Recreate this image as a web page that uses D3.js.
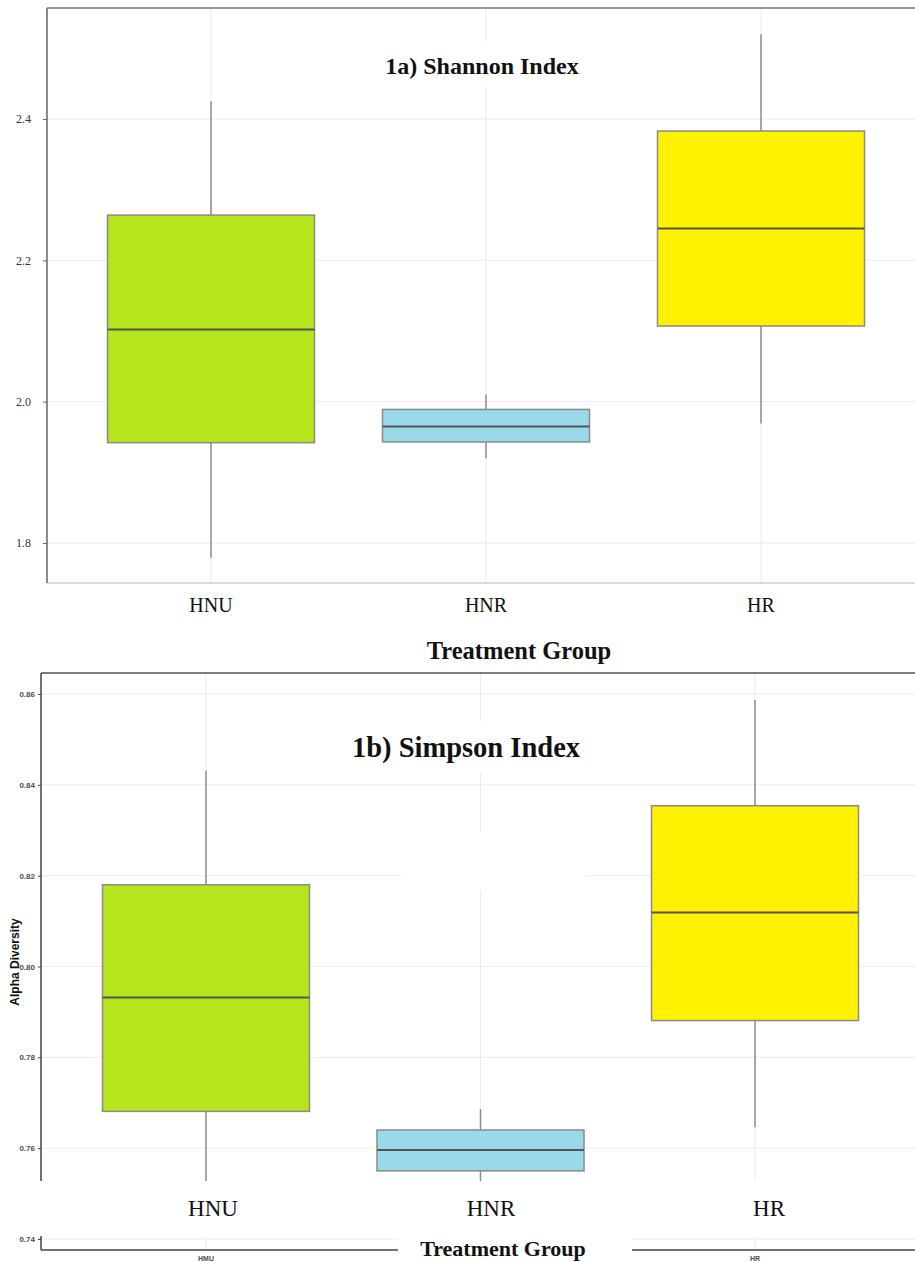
<!DOCTYPE html>
<html><head><meta charset="utf-8">
<script src="https://cdn.jsdelivr.net/npm/d3@7"></script>
<style>html,body{margin:0;padding:0;background:#fff;}svg{display:block;}</style>
</head><body>
<svg id="chart" width="915" height="1262"></svg>
<script>
const categories = ["HNU", "HNR", "HR"];
// tiny tick labels of the original plot (the middle one is hidden under a pasted label)
const bottomTickLabels = ["HMU", null, "HR"];
const boxColors = ["#B5E61D", "#99D9EA", "#FFF200"];

const shannonLow    = [1.779, 1.920, 1.969];
const shannonQ1     = [1.942, 1.943, 2.107];
const shannonMedian = [2.102, 1.965, 2.245];
const shannonQ3     = [2.264, 1.989, 2.383];
const shannonHigh   = [2.425, 2.010, 2.520];
const shannonTicks  = [1.8, 2.0, 2.2, 2.4];

const simpsonLow    = [0.748, 0.751, 0.7646];
const simpsonQ1     = [0.7681, 0.7550, 0.7881];
const simpsonMedian = [0.7932, 0.7596, 0.8119];
const simpsonQ3     = [0.8180, 0.7640, 0.8354];
const simpsonHigh   = [0.8431, 0.7686, 0.8587];
const simpsonTicks  = [0.74, 0.76, 0.78, 0.80, 0.82, 0.84, 0.86];

const svg = d3.select("#chart");
const SERIF = "'Liberation Serif','Times New Roman',serif";
const SANS = "'Liberation Sans',Arial,sans-serif";
const GRID = "#ececec";

function drawPanel(o) {
  const g = svg.append("g");
  const x = d3.scalePoint().domain(categories).range(o.xRange);
  const y = d3.scaleLinear().domain(o.yDomain).range(o.yRange);
  const half = o.boxWidth / 2;
  g.selectAll(".hg").data(o.ticks).enter().append("line")
    .attr("x1", o.left).attr("x2", 915).attr("y1", d => y(d)).attr("y2", d => y(d))
    .attr("stroke", GRID).attr("stroke-width", 1);
  g.selectAll(".vg").data(categories).enter().append("line")
    .attr("x1", d => x(d)).attr("x2", d => x(d)).attr("y1", o.top).attr("y2", o.bottom)
    .attr("stroke", GRID).attr("stroke-width", 1);
  o.patches.forEach(p => g.append("rect").attr("x", p[0]).attr("y", p[1]).attr("width", p[2]).attr("height", p[3]).attr("fill", "#fff"));
  g.append("line").attr("x1", o.left).attr("x2", 915).attr("y1", o.top).attr("y2", o.top)
    .attr("stroke", o.topColor).attr("stroke-width", 1.5);
  g.append("line").attr("x1", o.left).attr("x2", 915).attr("y1", o.bottom).attr("y2", o.bottom)
    .attr("stroke", o.bottomColor).attr("stroke-width", 1.3);
  g.append("line").attr("x1", o.left).attr("x2", o.left).attr("y1", o.top).attr("y2", o.bottom)
    .attr("stroke", o.leftColor).attr("stroke-width", 1.5);
  const ax = g.append("g").attr("transform", `translate(${o.left},0)`)
    .call(d3.axisLeft(y).tickValues(o.ticks).tickSize(o.tickSize).tickPadding(o.tickPad).tickFormat(o.fmt));
  ax.select(".domain").remove();
  ax.selectAll("line").attr("stroke", o.leftColor);
  ax.selectAll("text").attr("font-family", o.tickFont).attr("font-size", o.tickFontSize)
    .attr("fill", o.tickColor).attr("font-weight", o.tickWeight);
  const idx = categories.map((c, i) => i);
  const bx = g.selectAll(".box").data(idx).enter().append("g");
  bx.append("line").attr("x1", i => x(categories[i])).attr("x2", i => x(categories[i]))
    .attr("y1", i => y(o.high[i])).attr("y2", i => y(o.q3[i])).attr("stroke", "#8c8c8c").attr("stroke-width", 1.5);
  bx.append("line").attr("x1", i => x(categories[i])).attr("x2", i => x(categories[i]))
    .attr("y1", i => y(o.q1[i])).attr("y2", i => y(o.low[i])).attr("stroke", "#8c8c8c").attr("stroke-width", 1.5);
  bx.append("rect").attr("x", i => x(categories[i]) - half).attr("width", o.boxWidth)
    .attr("y", i => y(o.q3[i])).attr("height", i => y(o.q1[i]) - y(o.q3[i]))
    .attr("fill", i => boxColors[i]).attr("stroke", "#8a8a8a").attr("stroke-width", 1.5);
  bx.append("line").attr("x1", i => x(categories[i]) - half).attr("x2", i => x(categories[i]) + half)
    .attr("y1", i => y(o.median[i])).attr("y2", i => y(o.median[i])).attr("stroke", "#555").attr("stroke-width", 2);
  return {g, x, y};
}

// Panel 1a
const pA = drawPanel({
  left: 47, top: 8, bottom: 583, xRange: [211, 761], yDomain: [1.8, 2.4], yRange: [543, 119],
  boxWidth: 207, ticks: shannonTicks, fmt: d3.format(".1f"),
  low: shannonLow, q1: shannonQ1, median: shannonMedian, q3: shannonQ3, high: shannonHigh,
  topColor: "#777", bottomColor: "#cfcfcf", leftColor: "#666",
  tickSize: 4, tickPad: 12, tickFont: SERIF, tickFontSize: 12, tickColor: "#333", tickWeight: "normal",
  patches: [[380, 42, 205, 45]]
});
svg.append("text").attr("x", 482).attr("y", 74).attr("text-anchor", "middle")
  .attr("font-family", SERIF).attr("font-weight", "bold").attr("font-size", 24).attr("fill", "#111")
  .text("1a) Shannon Index");
svg.selectAll(".xla").data(categories).enter().append("text")
  .attr("x", d => pA.x(d)).attr("y", 612).attr("text-anchor", "middle")
  .attr("font-family", SERIF).attr("font-size", 20).attr("fill", "#111").text(d => d);
svg.append("text").attr("x", 519).attr("y", 659).attr("text-anchor", "middle")
  .attr("font-family", SERIF).attr("font-weight", "bold").attr("font-size", 24.5).attr("fill", "#111")
  .text("Treatment Group");

// Panel 1b
const pB = drawPanel({
  left: 41, top: 673, bottom: 1250, xRange: [206, 755], yDomain: [0.74, 0.86], yRange: [1239, 694],
  boxWidth: 207, ticks: simpsonTicks, fmt: d3.format(".2f"),
  low: simpsonLow, q1: simpsonQ1, median: simpsonMedian, q3: simpsonQ3, high: simpsonHigh,
  topColor: "#555", bottomColor: "#444", leftColor: "#444",
  tickSize: 3, tickPad: 3, tickFont: SANS, tickFontSize: 8, tickColor: "#4d4d4d", tickWeight: "bold",
  patches: [[345, 722, 245, 51], [402, 831, 183, 59]]
});
svg.selectAll(".xtb").data(bottomTickLabels.map((t, i) => ({t, c: categories[i]})).filter(d => d.t))
  .enter().append("text")
  .attr("x", d => pB.x(d.c)).attr("y", 1261).attr("text-anchor", "middle")
  .attr("font-family", SANS).attr("font-size", 7).attr("font-weight", "bold").attr("fill", "#4d4d4d").text(d => d.t);
svg.append("text").attr("transform", "translate(19,962) rotate(-90)").attr("text-anchor", "middle")
  .attr("font-family", SANS).attr("font-weight", "bold").attr("font-size", 12).attr("fill", "#111")
  .text("Alpha Diversity");
svg.append("text").attr("x", 466).attr("y", 757).attr("text-anchor", "middle")
  .attr("font-family", SERIF).attr("font-weight", "bold").attr("font-size", 28.5).attr("fill", "#111")
  .text("1b) Simpson Index");
svg.append("rect").attr("x", 0).attr("y", 1181).attr("width", 915).attr("height", 55).attr("fill", "#fff");
svg.append("rect").attr("x", 398).attr("y", 1236).attr("width", 234).attr("height", 26).attr("fill", "#fff");
const xLab = d3.scalePoint().domain(categories).range([213, 769]);
svg.selectAll(".xlb").data(categories).enter().append("text")
  .attr("x", d => xLab(d)).attr("y", 1216).attr("text-anchor", "middle")
  .attr("font-family", SERIF).attr("font-size", 23).attr("fill", "#111").text(d => d);
svg.append("text").attr("x", 503).attr("y", 1256).attr("text-anchor", "middle")
  .attr("font-family", SERIF).attr("font-weight", "bold").attr("font-size", 22).attr("fill", "#111")
  .text("Treatment Group");
</script>
</body></html>
